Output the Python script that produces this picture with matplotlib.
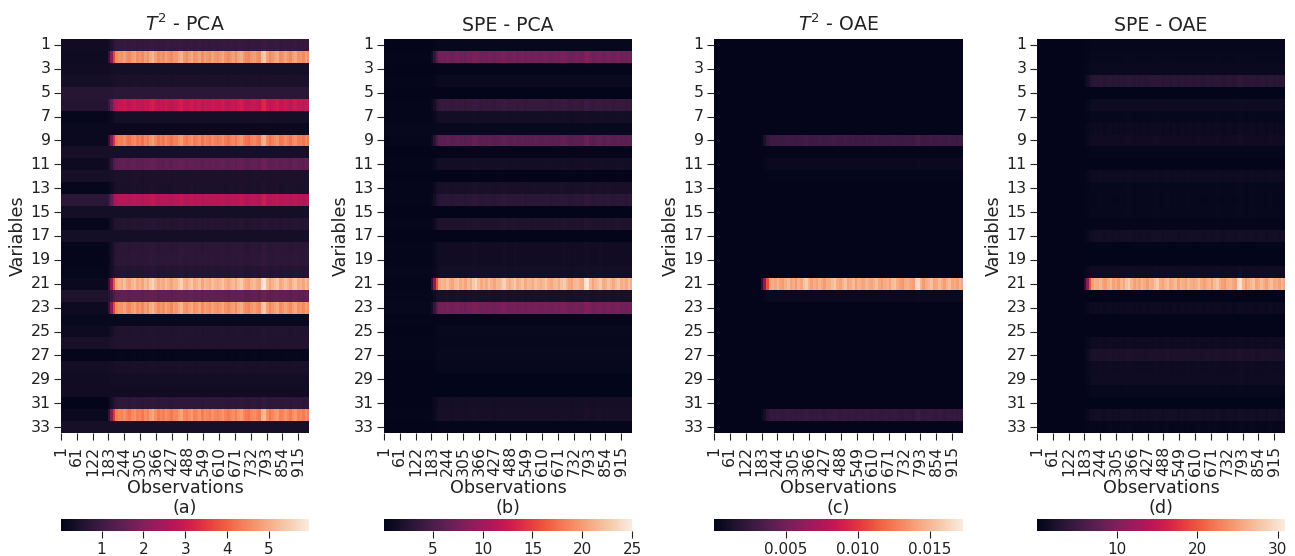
import numpy as np
import matplotlib
matplotlib.use('Agg')
import matplotlib.pyplot as plt
import seaborn as sns

# etiquetas de los ejes
obs_labels = [1, 61, 122, 183, 244, 305, 366, 427, 488, 549, 610, 671, 732, 793, 854, 915]
var_labels = list(range(1, 34, 2))
titles = ['$T^2$ - PCA', 'SPE - PCA', '$T^2$ - OAE', 'SPE - OAE']
captions = ['(a)', '(b)', '(c)', '(d)']

a_before = [.30, .25, .30, .35, .65, .60, .12, .20, .20, .40, .22, .38, .10, .70, .35, .12, .35,
            .08, .08, .12, .20, .50, .22, .15, .22, .42, .08, .32, .30, .30, .07, .20, .40]
a_after = [.85, 4.7, .35, .45, .70, 2.9, .35, .18, 4.4, .40, 1.5, .45, .45, 2.7, .35, .60, .35,
           .70, .72, .60, 5.1, 1.5, 4.7, .15, .55, .55, .10, .42, .32, .30, .75, 4.5, .40]
b_before = [.2, .3, .2, .3, .2, .3, .3, .5, .4, .2, .3, .2, .3, .3, .2, .3, .2,
            .3, .3, .4, .3, .4, .5, .3, .2, .3, .3, .2, .2, .2, .2, .3, .2]
b_after = [.5, 7.5, .3, .7, .2, 3.6, 1.3, .6, 6.0, .3, 1.3, .2, 1.7, 2.9, .15, 2.2, .2,
           1.2, 1.2, 1.3, 21.5, 1.7, 7.5, .3, .6, .5, .6, .5, .1, .1, 1.4, 1.6, .3]
c_before = [.0001] * 33
c_after = [.0001, .0001, .0001, .0001, .0001, .0001, .0001, .0001, .0028, .0002, .0005, .0002, .0001,
           .0001, .0001, .0001, .0001, .0001, .0001, .0001, .0145, .0005, .0001, .0001, .0001, .0001,
           .0001, .0001, .0001, .0001, .0001, .0024, .0001]
d_before = [.2] * 33
d_after = [.4, .6, .8, 3.4, .1, 1.2, .6, 1.0, 1.3, .4, .2, 1.1, .6, .5, .6, .3, 1.5,
           .2, .1, 1.3, 26.0, .2, 1.0, .2, .2, 1.1, 2.2, 1.1, 1.2, .6, .1, 1.5, .5]

# perfil a lo largo de las observaciones, un valor cada 10 observaciones
profile = [0, 0, 0, 0, 0, 0, 0, 0, 0, 0, 0, 0, 0, 0, 0, 0, 0, 0,
           .12, .40, .75, .96, 1.0, .98, 1.03, .97, .95, 1.01, 1.04, .97,
           1.0, .95, 1.02, .98, 1.06, 1.1, 1.02, .96, 1.0, .97, 1.03, .99,
           .95, 1.01, 1.0, 1.05, 1.09, 1.0, .97, 1.02, 1.06, .98, 1.0, 1.04,
           .96, 1.02, 1.0, .97, 1.03, 1.0, .98, 1.01, 1.05, .99, .96, 1.0,
           1.02, .97, 1.04, 1.07, 1.0, .96, .94, 1.0, 1.02, .98, .96, 1.12,
           1.16, 1.02, .95, 1.0, 1.03, 1.06, .97, .99, 1.04, 1.0, .96, 1.02,
           1.05, .98, 1.0, .96, 1.03, .98]

panels = [(a_before, a_after), (b_before, b_after), (c_before, c_after), (d_before, d_after)]
limits = [(0.03, 5.96), (0.08, 25.0), (0.00002, 0.0173), (0.02, 30.9)]
cbar_ticks = [[1, 2, 3, 4, 5], [5, 10, 15, 20, 25], [0.005, 0.010, 0.015], [10, 20, 30]]
cbar_labels = [['1', '2', '3', '4', '5'], ['5', '10', '15', '20', '25'],
               ['0.005', '0.010', '0.015'], ['10', '20', '30']]

W, H = 1295, 556
lefts = [61, 384, 714, 1037]
rights = [309, 632, 963, 1285]

# cada valor del perfil cubre 10 observaciones
shape = np.repeat(profile, 10)[:956]
cmap = sns.color_palette('rocket', as_cmap=True)

fig = plt.figure(figsize=(W / 100, H / 100), dpi=100)

for i in range(4):
    x0, x1 = lefts[i], rights[i]
    ax = fig.add_axes([x0 / W, 1 - 433 / H, (x1 - x0) / W, (433 - 39) / H])
    cax = fig.add_axes([x0 / W, 1 - 531 / H, (x1 - x0) / W, 12 / H])

    before, after = np.array(panels[i][0]), np.array(panels[i][1])
    data = before[:, None] + (after - before)[:, None] * shape[None, :]

    sns.heatmap(data, ax=ax, cmap=cmap, vmin=limits[i][0], vmax=limits[i][1],
                cbar_ax=cax, cbar_kws={'orientation': 'horizontal'}, rasterized=True)

    ax.set_xticks([o - 0.5 for o in obs_labels])
    ax.set_xticklabels(obs_labels, rotation=90, fontsize=11.3)
    ax.set_yticks([v - 0.5 for v in var_labels])
    ax.set_yticklabels(var_labels, rotation=0, fontsize=11.3)
    ax.tick_params(length=5, width=0.8, pad=2.5, colors='#222222')
    ax.tick_params(axis='x', pad=4.5)
    ax.set_title(titles[i], fontsize=13.6, pad=6, color='#222222')
    ax.set_xlabel('Observations\n' + captions[i], fontsize=12.7, labelpad=1.5, color='#222222')
    ax.set_ylabel('Variables', fontsize=12.7, labelpad=2.5, color='#222222')

    cax.set_xticks(cbar_ticks[i])
    cax.set_xticklabels(cbar_labels[i], fontsize=11)
    cax.tick_params(length=5, width=0.8, pad=3, colors='#222222')

fig.savefig('out.png', dpi=100)
